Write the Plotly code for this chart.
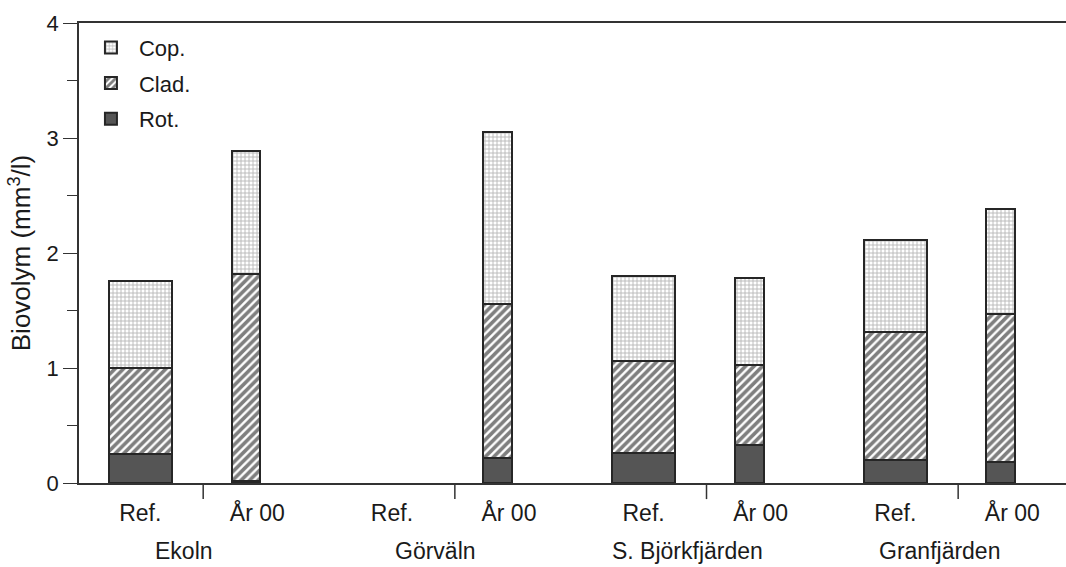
import plotly.graph_objects as go

# Zooplankton biovolume per site and period (mm3/l)
sites = ["Ekoln", "Görväln", "S. Björkfjärden", "Granfjärden"]
periods = ["Ref.", "År 00"]

# values listed site by site: [Ref., År 00]
rot = [0.25, 0.02, None, 0.22, 0.26, 0.33, 0.20, 0.18]
clad = [0.75, 1.80, None, 1.34, 0.80, 0.70, 1.11, 1.29]
cop = [0.76, 1.07, None, 1.49, 0.74, 0.75, 0.80, 0.91]

y_ticks = [0, 1, 2, 3, 4]

FONT = "Liberation Sans, Arial, sans-serif"
EDGE = "#262626"
TXT = "#1a1a1a"

# slot index for each site/period pair, and label per slot
slot_x = list(range(len(sites) * len(periods)))
slot_labels = [p for _ in sites for p in periods]

# Ref. bars are wide and centred; År 00 bars are narrow and nudged left
bar_width = {"Ref.": 0.50, "År 00": 0.23}
bar_shift = {"Ref.": 0.0, "År 00": -0.16}
label_shift = {"Ref.": 0.0, "År 00": -0.07}
widths = [bar_width[p] for p in slot_labels]
offsets = [-bar_width[p] / 2 + bar_shift[p] for p in slot_labels]
tick_pos = [x + label_shift[p] for x, p in zip(slot_x, slot_labels)]

# stacked bottom to top; legend lists them top to bottom (rank)
series = [
    ("Rot.", rot, 3, dict(color="#555555")),
    ("Clad.", clad, 2, dict(color="white",
                            pattern=dict(shape="/", fgcolor="#000000", bgcolor="white",
                                         size=6, solidity=0.6))),
    ("Cop.", cop, 1, dict(color="white",
                          pattern=dict(shape="+", fgcolor="#6e6e6e", bgcolor="white",
                                       size=4, solidity=0.4))),
]

fig = go.Figure()
for name, vals, rank, marker in series:
    marker = dict(marker, line=dict(color=EDGE, width=2))
    fig.add_trace(go.Bar(
        name=name, legendgroup=name, legendrank=rank,
        x=slot_x, y=vals, width=widths, offset=offsets,
        marker=marker,
    ))

# divider ticks between Ref. and År 00 within each site
shapes = []
for i in range(len(sites)):
    xd = i * len(periods) + 0.5
    shapes.append(dict(type="line", xref="x", yref="paper", x0=xd, x1=xd,
                       y0=0, y1=-0.035, line=dict(color="#333", width=1.5)))

# site names under each pair
annotations = []
for i, s in enumerate(sites):
    annotations.append(dict(
        text=s, xref="x", yref="paper", x=i * len(periods) + 0.35, y=-0.148,
        showarrow=False, xanchor="center", yanchor="middle",
        font=dict(family=FONT, size=23, color=TXT),
    ))

fig.update_layout(
    width=1066, height=567,
    margin=dict(l=79, r=0, t=23, b=84),
    paper_bgcolor="white", plot_bgcolor="white",
    barmode="stack",
    font=dict(family=FONT, color=TXT),
    showlegend=True,
    legend=dict(
        x=0.004, y=0.992, xanchor="left", yanchor="top",
        traceorder="grouped", bgcolor="rgba(0,0,0,0)",
        font=dict(family=FONT, size=22, color=TXT),
        tracegroupgap=4, itemwidth=46,
    ),
    shapes=shapes,
    annotations=annotations,
    xaxis=dict(
        range=[-0.487, 7.357], tickmode="array", tickvals=tick_pos, ticktext=slot_labels,
        showgrid=False, zeroline=False, showline=True, mirror=True,
        linecolor="#333", linewidth=1.5,
        ticks="outside", ticklen=9, tickcolor="rgba(0,0,0,0)",
        tickfont=dict(family=FONT, size=23, color=TXT),
    ),
    yaxis=dict(
        range=[0, 4], tickmode="array", tickvals=y_ticks,
        showgrid=False, zeroline=False, showline=True,
        linecolor="#333", linewidth=1.5,
        ticks="outside", ticklen=14, tickcolor="#333", tickwidth=1.2,
        minor=dict(dtick=0.5, ticks="outside", ticklen=10, tickcolor="#333", tickwidth=1.2),
        tickfont=dict(family=FONT, size=22, color=TXT),
        title=dict(text="Biovolym (mm<sup>3</sup>/l)", standoff=8,
                   font=dict(family=FONT, size=26, color=TXT)),
    ),
)

fig.write_html("out.html")
